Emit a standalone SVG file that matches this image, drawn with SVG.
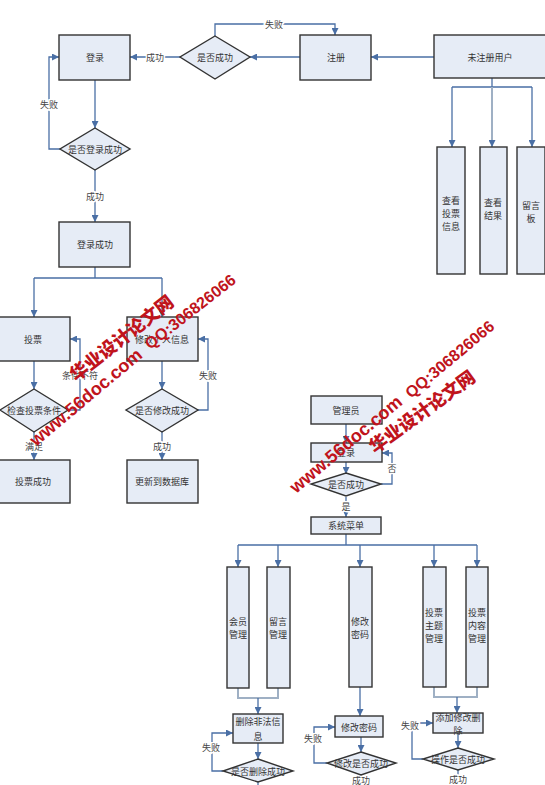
<svg xmlns="http://www.w3.org/2000/svg" width="545" height="785" viewBox="0 0 545 785">
<style>
.n{fill:#e6ecf6;stroke:#333;stroke-width:1.4}
.t{font-family:"Noto Sans CJK SC","Noto Sans CJK TC",sans-serif;font-size:9px;fill:#333;text-anchor:middle;dominant-baseline:central}
.l{font-family:"Noto Sans CJK SC","Noto Sans CJK TC",sans-serif;font-size:9px;fill:#444;text-anchor:middle;dominant-baseline:central;stroke:#fff;stroke-width:3;paint-order:stroke}
.c{fill:none;stroke:#4a6fa5;stroke-width:1.3}
.g{fill:none;stroke:#9fb0c4;stroke-width:2}
.w{font-family:"Liberation Sans",Arial,sans-serif;font-weight:bold;fill:#c0141c}
.wc{font-family:"Noto Sans CJK SC",sans-serif;font-weight:900;fill:#c0141c}
</style>
<defs>
<marker id="a" viewBox="0 0 10 10" refX="10" refY="5" markerWidth="7" markerHeight="7" markerUnits="userSpaceOnUse" orient="auto"><path d="M0,0 L10,5 L0,10 z" fill="#4a6fa5"/></marker>
</defs>
<rect width="545" height="785" fill="#fff"/>
<g id="connectors">
<path class="c" d="M434,57 H371" marker-end="url(#a)"/>
<path class="c" d="M300,57 H250" marker-end="url(#a)"/>
<path class="c" d="M180,57 H130" marker-end="url(#a)"/>
<path class="c" d="M215,36 V24 H335 V35" marker-end="url(#a)"/>
<path class="c" d="M95,80 V128" marker-end="url(#a)"/>
<path class="c" d="M60,149 H49 V57 H59" marker-end="url(#a)"/>
<path class="c" d="M95,170 V222" marker-end="url(#a)"/>
<path class="c" d="M95,267 V278 M34,278 H162"/>
<path class="c" d="M34,278 V317" marker-end="url(#a)"/>
<path class="c" d="M162,278 V317" marker-end="url(#a)"/>
<path class="c" d="M34,361 V389" marker-end="url(#a)"/>
<path class="c" d="M68,410 H80 V339 H70" marker-end="url(#a)"/>
<path class="c" d="M34,432 V460" marker-end="url(#a)"/>
<path class="c" d="M162,361 V389" marker-end="url(#a)"/>
<path class="c" d="M198,410 H208 V339 H198" marker-end="url(#a)"/>
<path class="c" d="M162,432 V460" marker-end="url(#a)"/>
<path class="c" d="M492,78 V87 M452,87 H532"/>
<path class="c" d="M452,87 V147" marker-end="url(#a)"/>
<path class="g" d="M492,87 V147" marker-end="url(#a)"/>
<path class="c" d="M532,87 V147" marker-end="url(#a)"/>
<path class="c" d="M346,424 V443" marker-end="url(#a)"/>
<path class="c" d="M346,462 V474" marker-end="url(#a)"/>
<path class="c" d="M381,484 H392 V453 H382" marker-end="url(#a)"/>
<path class="c" d="M346,497 V517" marker-end="url(#a)"/>
<path class="c" d="M346,534 V545 M238,545 H477"/>
<path class="c" d="M238,545 V567" marker-end="url(#a)"/>
<path class="c" d="M278,545 V567" marker-end="url(#a)"/>
<path class="c" d="M360,545 V567" marker-end="url(#a)"/>
<path class="c" d="M434,545 V567" marker-end="url(#a)"/>
<path class="c" d="M477,545 V567" marker-end="url(#a)"/>
<path class="g" d="M238,688 V698 H278 V688"/>
<path class="c" d="M258,698 V714" marker-end="url(#a)"/>
<path class="c" d="M258,743 V759" marker-end="url(#a)"/>
<path class="c" d="M223,771 H212 V733 H233" marker-end="url(#a)"/>
<path class="c" d="M258,782 V785"/>
<path class="c" d="M360,687 V716" marker-end="url(#a)"/>
<path class="c" d="M361,737 V752" marker-end="url(#a)"/>
<path class="c" d="M327,763 H314 V727 H335" marker-end="url(#a)"/>
<path class="c" d="M361,775 V785"/>
<path class="g" d="M434,687 V697 H477 V687"/>
<path class="c" d="M457,697 V713" marker-end="url(#a)"/>
<path class="c" d="M458,733 V748" marker-end="url(#a)"/>
<path class="c" d="M423,759 H412 V723 H433" marker-end="url(#a)"/>
<path class="c" d="M458,770 V776"/>
<text class="l" x="155" y="57">成功</text>
<text class="l" x="274" y="24">失败</text>
<text class="l" x="49" y="104">失败</text>
<text class="l" x="95" y="196">成功</text>
<text class="l" x="80" y="375">条件不符</text>
<text class="l" x="34" y="446">满足</text>
<text class="l" x="208" y="375">失败</text>
<text class="l" x="162" y="446">成功</text>
<text class="l" x="392" y="468">否</text>
<text class="l" x="346" y="506">是</text>
<text class="l" x="211" y="747">失败</text>
<text class="l" x="313" y="738">失败</text>
<text class="l" x="361" y="780">成功</text>
<text class="l" x="410" y="725">失败</text>
<text class="l" x="458" y="779">成功</text>
</g>
<g id="login"><rect class="n" x="59" y="35" width="71" height="45"/><text class="t" x="95" y="57">登录</text></g>
<g id="dec-reg"><polygon class="n" points="215,36 250,57 215,79 180,57"/><text class="t" x="215" y="57">是否成功</text></g>
<g id="register"><rect class="n" x="300" y="35" width="71" height="45"/><text class="t" x="336" y="57">注册</text></g>
<g id="guest"><rect class="n" x="434" y="35" width="116" height="43"/><text class="t" x="490" y="57">未注册用户</text></g>
<g id="dec-login"><polygon class="n" points="95,128 130,149 95,170 60,149"/><text class="t" x="95" y="149">是否登录成功</text></g>
<g id="login-ok"><rect class="n" x="59" y="222" width="71" height="45"/><text class="t" x="95" y="244">登录成功</text></g>
<g id="view-vote"><rect class="n" x="437" y="147" width="28" height="127"/><text class="t" x="451" y="200">查看<tspan x="451" dy="13">投票</tspan><tspan x="451" dy="13">信息</tspan></text></g>
<g id="view-result"><rect class="n" x="480" y="147" width="27" height="127"/><text class="t" x="493" y="202">查看<tspan x="493" dy="13">结果</tspan></text></g>
<g id="board"><rect class="n" x="517" y="147" width="28" height="127"/><text class="t" x="531" y="205">留言<tspan x="531" dy="13">板</tspan></text></g>
<g id="vote"><rect class="n" x="-4" y="317" width="74" height="44"/><text class="t" x="33" y="339">投票</text></g>
<g id="dec-vote"><polygon class="n" points="34,389 68,410 34,432 0,410"/><text class="t" x="34" y="410">检查投票条件</text></g>
<g id="vote-ok"><rect class="n" x="-4" y="460" width="74" height="43"/><text class="t" x="33" y="481">投票成功</text></g>
<g id="edit-info"><rect class="n" x="127" y="317" width="71" height="44"/><text class="t" x="162" y="339">修改个人信息</text></g>
<g id="dec-edit"><polygon class="n" points="162,389 198,410 162,432 126,410"/><text class="t" x="162" y="410">是否修改成功</text></g>
<g id="update-db"><rect class="n" x="127" y="460" width="71" height="43"/><text class="t" x="162" y="481">更新到数据库</text></g>
<g id="admin"><rect class="n" x="311" y="396" width="71" height="28"/><text class="t" x="346" y="410">管理员</text></g>
<g id="admin-login"><rect class="n" x="311" y="443" width="71" height="19"/><text class="t" x="346" y="452">登录</text></g>
<g id="dec-admin"><polygon class="n" points="346,473 381,484 346,496 311,484"/><text class="t" x="346" y="484">是否成功</text></g>
<g id="menu"><rect class="n" x="311" y="517" width="70" height="17"/><text class="t" x="346" y="525">系统菜单</text></g>
<g id="member"><rect class="n" x="227" y="567" width="22" height="121"/><text class="t" x="238" y="621">会员<tspan x="238" dy="13">管理</tspan></text></g>
<g id="msg"><rect class="n" x="267" y="567" width="23" height="121"/><text class="t" x="278" y="621">留言<tspan x="278" dy="13">管理</tspan></text></g>
<g id="pwd"><rect class="n" x="349" y="567" width="23" height="120"/><text class="t" x="360" y="621">修改<tspan x="360" dy="13">密码</tspan></text></g>
<g id="topic"><rect class="n" x="423" y="567" width="23" height="120"/><text class="t" x="434" y="612">投票<tspan x="434" dy="13">主题</tspan><tspan x="434" dy="13">管理</tspan></text></g>
<g id="content"><rect class="n" x="466" y="567" width="22" height="120"/><text class="t" x="477" y="612">投票<tspan x="477" dy="13">内容</tspan><tspan x="477" dy="13">管理</tspan></text></g>
<g id="del"><rect class="n" x="233" y="714" width="50" height="29"/><text class="t" x="258" y="721">删除非法信<tspan x="258" dy="15">息</tspan></text></g>
<g id="dec-del"><polygon class="n" points="258,759 293,771 258,782 223,771"/><text class="t" x="258" y="771">是否删除成功</text></g>
<g id="edit-pwd"><rect class="n" x="335" y="716" width="48" height="21"/><text class="t" x="359" y="727">修改密码</text></g>
<g id="dec-pwd"><polygon class="n" points="361,752 396,763 361,775 327,763"/><text class="t" x="361" y="763">修改是否成功</text></g>
<g id="crud"><rect class="n" x="433" y="713" width="50" height="20"/><text class="t" x="458" y="717">添加修改删<tspan x="458" dy="13">除</tspan></text></g>
<g id="dec-crud"><polygon class="n" points="458,748 494,759 458,770 423,759"/><text class="t" x="458" y="759">操作是否成功</text></g>
<g id="watermark">
<text class="wc" font-size="18" transform="translate(76,382) rotate(-38)">华业设计论文网</text>
<text class="w" font-size="16" transform="translate(150,350) rotate(-38)">QQ:306826066</text>
<text class="w" font-size="18" transform="translate(36,447) rotate(-40)">www.56doc.com</text>
<text class="w" font-size="18" transform="translate(296,494) rotate(-40)">www.56doc.com</text>
<text class="wc" font-size="18" transform="translate(375,454) rotate(-36)">华业设计论文网</text>
<text class="w" font-size="16" transform="translate(411,399) rotate(-40)">QQ:306826066</text>
</g>
</svg>
